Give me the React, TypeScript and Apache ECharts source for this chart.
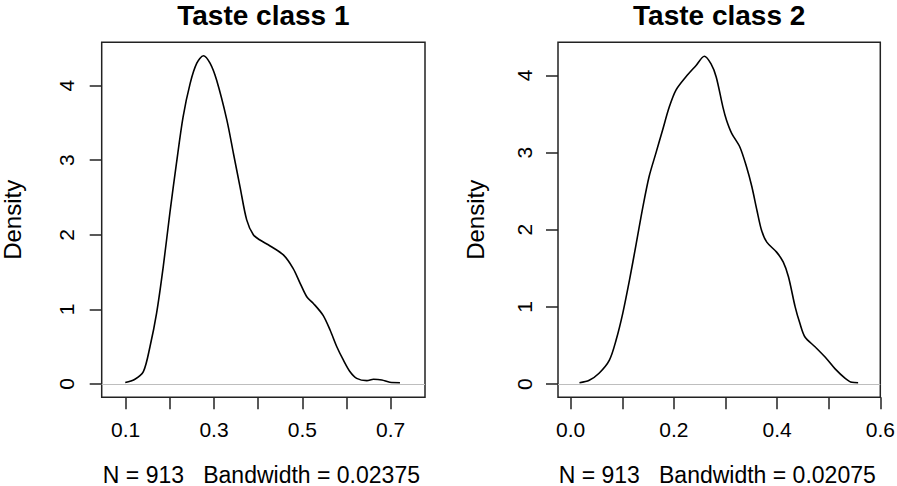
import React, { useEffect, useRef } from "react";
import * as echarts from "echarts";

const FONT = "'Liberation Sans', Arial, Helvetica, sans-serif";

const titles = ["Taste class 1", "Taste class 2"];
const subtitles = ["N = 913   Bandwidth = 0.02375", "N = 913   Bandwidth = 0.02075"];

// Taste class 1 density estimate
const class1X = [0.099, 0.12, 0.14, 0.155, 0.17, 0.185, 0.2, 0.215, 0.23, 0.246, 0.261, 0.276, 0.291, 0.306, 0.329, 0.344, 0.359, 0.374, 0.389, 0.404, 0.427, 0.457, 0.479, 0.495, 0.51, 0.525, 0.547, 0.563, 0.578, 0.593, 0.608, 0.623, 0.646, 0.661, 0.68, 0.698, 0.721];
const class1Y = [0.02, 0.06, 0.165, 0.5, 0.95, 1.57, 2.29, 2.96, 3.58, 4.03, 4.3, 4.4, 4.3, 4.07, 3.54, 3.09, 2.64, 2.2, 2.0, 1.93, 1.85, 1.73, 1.55, 1.35, 1.17, 1.08, 0.92, 0.72, 0.5, 0.32, 0.165, 0.076, 0.045, 0.063, 0.054, 0.023, 0.018];

// Taste class 2 density estimate
const class2X = [0.017, 0.036, 0.055, 0.075, 0.088, 0.101, 0.114, 0.127, 0.14, 0.152, 0.165, 0.178, 0.191, 0.204, 0.223, 0.243, 0.259, 0.272, 0.282, 0.295, 0.302, 0.312, 0.328, 0.341, 0.351, 0.361, 0.37, 0.38, 0.399, 0.412, 0.422, 0.435, 0.444, 0.454, 0.474, 0.493, 0.512, 0.532, 0.545, 0.557];
const class2Y = [0.017, 0.05, 0.14, 0.31, 0.57, 0.92, 1.35, 1.82, 2.3, 2.69, 2.99, 3.29, 3.59, 3.81, 3.98, 4.13, 4.25, 4.15, 3.98, 3.59, 3.42, 3.25, 3.07, 2.81, 2.56, 2.25, 1.99, 1.84, 1.71, 1.58, 1.39, 1.0, 0.79, 0.61, 0.48, 0.35, 0.2, 0.074, 0.022, 0.017];

// axis ticks and labels
const xTicks1 = [0.1, 0.2, 0.3, 0.4, 0.5, 0.6, 0.7];
const xLabels1 = [0.1, 0.3, 0.5, 0.7];
const xTicks2 = [0.0, 0.1, 0.2, 0.3, 0.4, 0.5, 0.6];
const xLabels2 = [0.0, 0.2, 0.4, 0.6];
const yTicks = [0, 1, 2, 3, 4];

export default function App() {
  const ref = useRef<HTMLDivElement>(null);

  useEffect(() => {
    if (!ref.current) return;
    const chart = echarts.init(ref.current, null, { renderer: "svg" });

    const grids = [
      { left: 101.7, top: 42.3, width: 323.3, height: 355 },
      { left: 558, top: 42.3, width: 322.3, height: 355 },
    ];
    const xRanges = [
      [0.0457, 0.7777],
      [-0.0246, 0.6],
    ];
    const yRanges = [
      [-0.178, 4.58],
      [-0.172, 4.43],
    ];
    const xTickSets = [xTicks1, xTicks2];
    const xLabelSets = [xLabels1, xLabels2];
    const yLabelMargins = [24.8, 23.5];
    const nameGaps = [77, 71];
    const data = [
      class1X.map((x, i) => [x, class1Y[i]]),
      class2X.map((x, i) => [x, class2Y[i]]),
    ];
    const centers = [263.4, 719.2];

    const option: any = {
      animation: false,
      backgroundColor: "#fff",
      title: [
        ...titles.map((t, i) => ({
          text: t,
          left: centers[i],
          top: 1,
          padding: 0,
          textAlign: "center",
          textStyle: { fontSize: 28, fontWeight: "bold", fontFamily: FONT, color: "#000" },
        })),
        ...subtitles.map((t, i) => ({
          text: t,
          left: centers[i] - 2,
          top: 463,
          padding: 0,
          textAlign: "center",
          textStyle: { fontSize: 23, fontWeight: "normal", fontFamily: FONT, color: "#000" },
        })),
      ],
      grid: grids.map((g) => ({
        ...g,
        show: true,
        borderColor: "#222",
        borderWidth: 1.5,
        backgroundColor: "transparent",
        containLabel: false,
        outerBoundsMode: "none",
      })),
      xAxis: [0, 1].map((i) => ({
        type: "value",
        gridIndex: i,
        min: xRanges[i][0],
        max: xRanges[i][1],
        position: "bottom",
        axisLine: { show: false, onZero: false },
        splitLine: { show: false },
        axisTick: {
          show: true,
          length: 12,
          inside: false,
          customValues: xTickSets[i],
          lineStyle: { color: "#222", width: 1.5 },
        },
        axisLabel: {
          show: true,
          customValues: xLabelSets[i],
          margin: 22,
          fontSize: 21,
          fontFamily: FONT,
          color: "#000",
          formatter: (v: number) => v.toFixed(1),
        },
      })),
      yAxis: [0, 1].map((i) => ({
        type: "value",
        gridIndex: i,
        min: yRanges[i][0],
        max: yRanges[i][1],
        position: "left",
        name: "Density",
        nameLocation: "middle",
        nameGap: nameGaps[i],
        nameRotate: 90,
        nameMoveOverlap: false,
        nameTextStyle: { fontSize: 24, fontFamily: FONT, color: "#000" },
        axisLine: { show: false, onZero: false },
        splitLine: { show: false },
        axisTick: {
          show: true,
          length: 12,
          inside: false,
          customValues: yTicks,
          lineStyle: { color: "#222", width: 1.5 },
        },
        axisLabel: {
          show: true,
          customValues: yTicks,
          rotate: 90,
          margin: yLabelMargins[i],
          fontSize: 21,
          fontFamily: FONT,
          color: "#000",
          formatter: (v: number) => String(Math.round(v)),
        },
      })),
      series: [0, 1].map((i) => ({
        type: "line",
        xAxisIndex: i,
        yAxisIndex: i,
        data: data[i],
        showSymbol: false,
        smooth: 0.3,
        lineStyle: { color: "#000", width: 1.6 },
        markLine: {
          silent: true,
          symbol: "none",
          label: { show: false },
          lineStyle: { color: "#bebebe", type: "solid", width: 1.2 },
          data: [{ yAxis: 0 }],
        },
      })),
    };

    chart.setOption(option);
    return () => chart.dispose();
  }, []);

  return (
    <div
      ref={ref}
      style={{ position: "absolute", left: 0, top: 0, width: 897, height: 486 }}
    />
  );
}
